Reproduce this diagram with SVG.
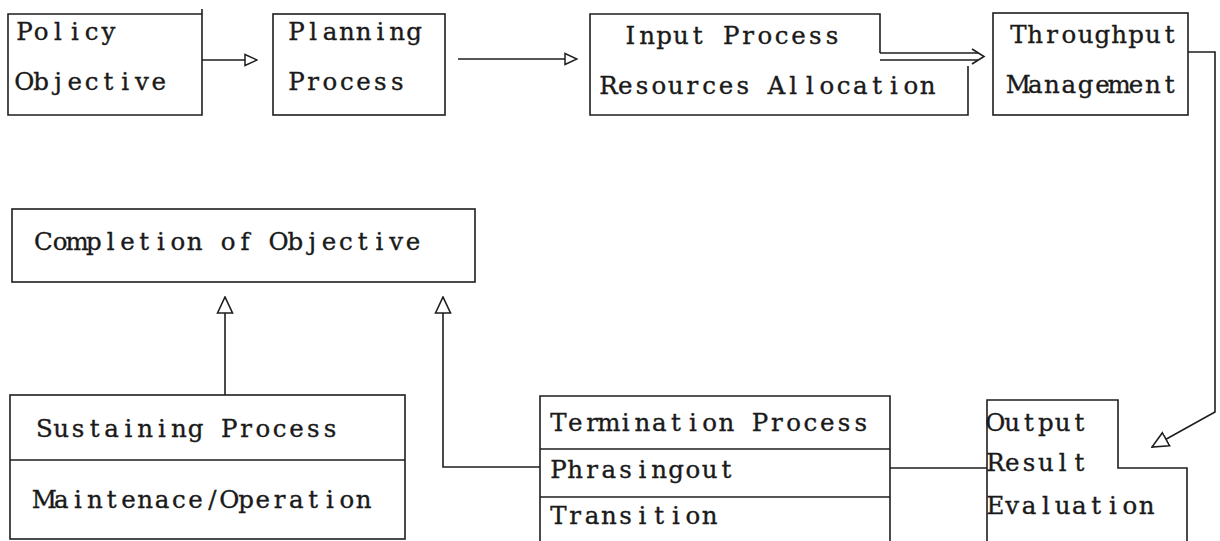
<svg xmlns="http://www.w3.org/2000/svg" width="1220" height="541" viewBox="0 0 1220 541">
<defs>
<style>
.box{fill:none;stroke:#1e1e1e;stroke-width:1.6}
.ln{fill:none;stroke:#1e1e1e;stroke-width:1.6}
.t{font-family:"DejaVu Serif","Liberation Serif",serif;font-size:24.5px;fill:#1a1a1a;stroke:#1a1a1a;stroke-width:0.35;text-anchor:middle}
</style>
<marker id="ah" viewBox="0 0 14 14" refX="13" refY="7" markerWidth="14" markerHeight="14" markerUnits="userSpaceOnUse" orient="auto">
<path d="M1,1.5 L13,7 L1,12.5 Z" fill="#fff" stroke="#1e1e1e" stroke-width="1.5"/>
</marker>
<marker id="ahl" viewBox="0 0 18 18" refX="17" refY="9" markerWidth="18" markerHeight="18" markerUnits="userSpaceOnUse" orient="auto">
<path d="M1,1.5 L17,9 L1,16.5 Z" fill="#fff" stroke="#1e1e1e" stroke-width="1.6"/>
</marker>
</defs>
<rect width="1220" height="541" fill="#fff"/>

<g id="connectors">
<line class="ln" x1="202" y1="60" x2="257" y2="60" marker-end="url(#ah)"/>
<line class="ln" x1="458" y1="59" x2="577" y2="59" marker-end="url(#ah)"/>
<line class="ln" x1="880" y1="53" x2="978" y2="53"/>
<line class="ln" x1="880" y1="60" x2="978" y2="60"/>
<path class="ln" d="M972,49 L984,56.5 L972,64"/>
<path class="ln" d="M1188,52 H1215 V412 L1152,447" marker-end="url(#ahl)"/>
<line class="ln" x1="225" y1="395" x2="225" y2="297" marker-end="url(#ahl)"/>
<path class="ln" d="M540,467 H443 V297" marker-end="url(#ahl)"/>
<line class="ln" x1="890" y1="468" x2="987" y2="468"/>
</g>

<g id="policy">
<path class="box" d="M202,9 V115 H8 V14 H202"/>
<text class="t" x="24.4 41.2 58 74.8 91.6 108.4" y="40">Policy</text>
<text class="t" x="24.4 41.2 58 74.8 91.6 108.4 125.2 142 158.8" y="90">Objective</text>
</g>

<g id="planning">
<rect class="box" x="273" y="14" width="172" height="101"/>
<text class="t" x="296.4 313.2 330 346.8 363.6 380.4 397.2 414" y="40">Planning</text>
<text class="t" x="296.4 313.2 330 346.8 363.6 380.4 397.2" y="90">Process</text>
</g>

<g id="input">
<path class="box" d="M880,53 V14 H590 V115 H968 V66"/>
<text class="t" x="630.4 647.2 664 680.8 697.6 714.4 731.2 748 764.8 781.6 798.4 815.2 832" y="44">Input Process</text>
<text class="t" x="608.4 625.2 642 658.8 675.6 692.4 709.2 726 742.8 759.6 776.4 793.2 810 826.8 843.6 860.4 877.2 894 910.8 927.6" y="94">Resources Allocation</text>
</g>

<g id="throughput">
<rect class="box" x="993" y="13" width="195" height="102"/>
<text class="t" x="1018.4 1035.2 1052 1068.8 1085.6 1102.4 1119.2 1136 1152.8 1169.6" y="43">Throughput</text>
<text class="t" x="1018.4 1035.2 1052 1068.8 1085.6 1102.4 1119.2 1136 1152.8 1169.6" y="93">Management</text>
</g>

<g id="completion">
<rect class="box" x="12" y="209" width="463" height="73"/>
<text class="t" x="43.4 60.2 77 93.8 110.6 127.4 144.2 161 177.8 194.6 211.4 228.2 245 261.8 278.6 295.4 312.2 329 345.8 362.6 379.4 396.2 413" y="250">Completion of Objective</text>
</g>

<g id="sustaining">
<rect class="box" x="10" y="395" width="395" height="144"/>
<line class="ln" x1="10" y1="460" x2="405" y2="460"/>
<text class="t" x="44.4 61.2 78 94.8 111.6 128.4 145.2 162 178.8 195.6 212.4 229.2 246 262.8 279.6 296.4 313.2 330" y="437">Sustaining Process</text>
<text class="t" x="44.4 61.2 78 94.8 111.6 128.4 145.2 162 178.8 195.6 212.4 229.2 246 262.8 279.6 296.4 313.2 330 346.8 363.6" y="508">Maintenace/Operation</text>
</g>

<g id="termination">
<path class="box" d="M540,541 V396 H890 V541"/>
<line class="ln" x1="540" y1="449" x2="890" y2="449"/>
<line class="ln" x1="540" y1="497" x2="890" y2="497"/>
<text class="t" x="558.4 575.2 592 608.8 625.6 642.4 659.2 676 692.8 709.6 726.4 743.2 760 776.8 793.6 810.4 827.2 844 860.8" y="431">Termination Process</text>
<text class="t" x="558.4 575.2 592 608.8 625.6 642.4 659.2 676 692.8 709.6 726.4" y="478">Phrasingout</text>
<text class="t" x="558.4 575.2 592 608.8 625.6 642.4 659.2 676 692.8 709.6" y="524">Transition</text>
</g>

<g id="output">
<path class="box" d="M987,541 V400 H1118 V468 H1187 V541"/>
<text class="t" x="995.4 1012.2 1029 1045.8 1062.6 1079.4" y="431">Output</text>
<text class="t" x="995.4 1012.2 1029 1045.8 1062.6 1079.4" y="471">Result</text>
<text class="t" x="995.4 1012.2 1029 1045.8 1062.6 1079.4 1096.2 1113 1129.8 1146.6" y="514">Evaluation</text>
</g>
</svg>
